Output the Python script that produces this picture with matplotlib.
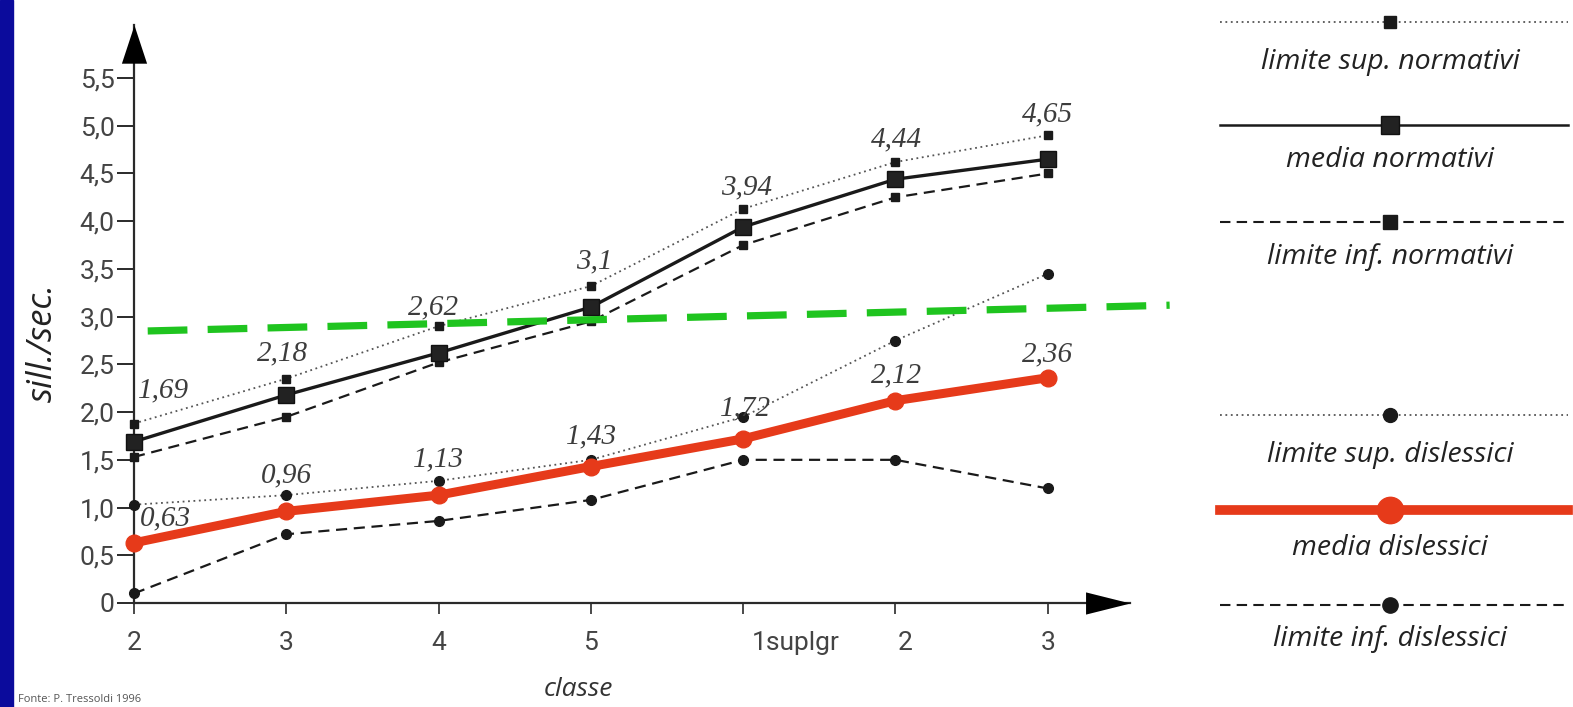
import matplotlib
matplotlib.use('Agg')
import matplotlib.pyplot as plt
import matplotlib.transforms as mtransforms
from matplotlib.lines import Line2D
from matplotlib.patches import Rectangle

# ---------------- data ----------------
classes = ['2', '3', '4', '5', '1suplgr', '2', '3']
media_norm = [1.69, 2.18, 2.62, 3.10, 3.94, 4.44, 4.65]
sup_norm = [1.88, 2.35, 2.90, 3.32, 4.13, 4.62, 4.90]
inf_norm = [1.53, 1.95, 2.52, 2.95, 3.75, 4.25, 4.50]
media_dis = [0.63, 0.96, 1.13, 1.43, 1.72, 2.12, 2.36]
sup_dis = [1.03, 1.13, 1.28, 1.50, 1.95, 2.75, 3.45]
inf_dis = [0.10, 0.72, 0.86, 1.08, 1.50, 1.50, 1.20]
norm_labels = ['1,69', '2,18', '2,62', '3,1', '3,94', '4,44', '4,65']
dis_labels = ['0,63', '0,96', '1,13', '1,43', '1,72', '2,12', '2,36']
threshold_x = [0.09, 6.8]
threshold_y = [2.85, 3.12]
yticks = [0, 0.5, 1.0, 1.5, 2.0, 2.5, 3.0, 3.5, 4.0, 4.5, 5.0, 5.5]
ytick_labels = ['0', '0,5', '1,0', '1,5', '2,0', '2,5', '3,0', '3,5', '4,0', '4,5', '5,0', '5,5']
legend_labels = ['limite sup. normativi', 'media normativi', 'limite inf. normativi',
                 'limite sup. dislessici', 'media dislessici', 'limite inf. dislessici']

# ---------------- styles ----------------
W, H = 1573, 707
RED = '#e63a1a'
GREEN = '#1fc41f'
DARK = '#1a1a1a'
GRAY_TXT = '#3a3a3a'
norm_off = [(30, 51), (-4, 42), (-5, 46), (3, 46), (3, 40), (1, 40), (0, 45)]
dis_off = [(31, 24), (0, 36), (0, 36), (1, 30), (2, 30), (1, 25), (0, 23)]

fig = plt.figure(figsize=(W / 100, H / 100), dpi=100)
fig.patch.set_facecolor('white')

# pixel-space overlay axes (for legend and decorations)
pax = fig.add_axes([0, 0, 1, 1], zorder=0)
pax.set_xlim(0, W)
pax.set_ylim(H, 0)
pax.axis('off')
pax.add_patch(Rectangle((0, 0), 13, H, color='#0b0b9c', zorder=5))

# main axes geometry (pixels)
x0_px, x_end_px, dx_px = 134, 1130, 152.3
y0_px, y_top_px, dy_px = 603, 25, 95.45
ax = fig.add_axes([x0_px / W, (H - y0_px) / H, (x_end_px - x0_px) / W, (y0_px - y_top_px) / H], zorder=2)
ax.patch.set_alpha(0)
ax.set_xlim(0, (x_end_px - x0_px) / dx_px)
ax.set_ylim(0, (y0_px - y_top_px) / dy_px)
for s in ['top', 'right']:
    ax.spines[s].set_visible(False)
for s in ['left', 'bottom']:
    ax.spines[s].set_linewidth(1.6)
    ax.spines[s].set_color('#2a2a2a')

x = list(range(len(classes)))
ax.set_xticks(x)
ax.set_xticklabels(classes)
ax.set_yticks(yticks)
ax.set_yticklabels(ytick_labels)
ax.tick_params(axis='y', direction='out', length=12, width=1.4, color='#2a2a2a',
               labelsize=19, labelcolor='#444444', pad=2)
ax.tick_params(axis='x', direction='out', length=8, width=1.2, color='#2a2a2a',
               labelsize=19, labelcolor='#444444', pad=12)
for lab in ax.get_yticklabels() + ax.get_xticklabels():
    lab.set_fontfamily(['Roboto', 'DejaVu Sans'])
xl = ax.get_xticklabels()
xl[4].set_horizontalalignment('left')
xl[4].set_transform(xl[4].get_transform() + mtransforms.ScaledTranslation(0.09, 0, fig.dpi_scale_trans))
xl[5].set_transform(xl[5].get_transform() + mtransforms.ScaledTranslation(0.10, 0, fig.dpi_scale_trans))

# arrows
xarrow = [(0, 0), (-1, 0.25), (-1, -0.25), (0, 0)]
yarrow = [(0, 0), (-0.33, -1), (0.33, -1), (0, 0)]
ax.plot([1], [0], marker=xarrow, markersize=64, color='black', mew=0,
        transform=ax.transAxes, clip_on=False, zorder=6)
ax.plot([0], [1], marker=yarrow, markersize=55, color='black', mew=0,
        transform=ax.transAxes, clip_on=False, zorder=6)

# normativi
ax.plot(x, sup_norm, linestyle=(0, (1, 2)), color='#555555', lw=1.3,
        marker='s', ms=6, mfc=DARK, mec=DARK, clip_on=False, zorder=3)
ax.plot(x, inf_norm, linestyle=(0, (5, 3)), color=DARK, lw=1.6,
        marker='s', ms=6, mfc=DARK, mec=DARK, clip_on=False, zorder=3)
ax.plot(x, media_norm, linestyle='-', color=DARK, lw=2.4,
        marker='s', ms=11, mfc='#222222', mec='#111111', clip_on=False, zorder=4)

# dislessici
ax.plot(x, sup_dis, linestyle=(0, (1, 2)), color='#555555', lw=1.3,
        marker='o', ms=7, mfc=DARK, mec=DARK, clip_on=False, zorder=3)
ax.plot(x, inf_dis, linestyle=(0, (5, 3)), color=DARK, lw=1.6,
        marker='o', ms=7, mfc=DARK, mec=DARK, clip_on=False, zorder=3)
ax.plot(x, media_dis, linestyle='-', color=RED, lw=6.5,
        marker='o', ms=12, mfc=RED, mec=RED, clip_on=False, zorder=5,
        solid_capstyle='round', solid_joinstyle='round')

# threshold green dashed line
ax.plot(threshold_x, threshold_y, linestyle=(0, (5.5, 2.8)), color=GREEN, lw=5.2,
        clip_on=False, zorder=4.5)

# value labels
lab_font = dict(fontsize=21, fontstyle='italic', family=['Liberation Serif', 'DejaVu Serif'],
                color='#3c3c3c')
for xi, yi, t, off in zip(x, media_norm, norm_labels, norm_off):
    ax.annotate(t, (xi, yi), xytext=off, textcoords='offset pixels', ha='center', va='center',
                zorder=7, annotation_clip=False, **lab_font)
for xi, yi, t, off in zip(x, media_dis, dis_labels, dis_off):
    ax.annotate(t, (xi, yi), xytext=off, textcoords='offset pixels', ha='center', va='center',
                zorder=4.8, annotation_clip=False, **lab_font)

# axis titles
pax.text(43, 343, 'sill./sec.', rotation=90, ha='center', va='center', fontsize=25,
         fontstyle='italic', family=['Open Sans', 'DejaVu Sans'], color='#222222')
pax.text(578, 690, 'classe', ha='center', va='center', fontsize=19,
         fontstyle='italic', family=['Open Sans', 'DejaVu Sans'], color='#333333')
pax.text(18, 705, 'Fonte: P. Tressoldi 1996', ha='left', va='bottom', fontsize=8,
         family=['Open Sans', 'DejaVu Sans'], color='#555555')

# legend (drawn manually in pixel space)
lx0, lx1, lmx = 1220, 1568, 1390
leg_line_y = [22, 125, 222, 415, 510, 605]
leg_text_y = [62, 160, 257, 455, 548, 639]
leg_styles = [
    dict(ls=(0, (1, 2)), color='#555555', lw=1.3, marker='s', ms=9, mfc=DARK, mec=DARK),
    dict(ls='-', color=DARK, lw=1.8, marker='s', ms=13, mfc='#222222', mec='#111111'),
    dict(ls=(0, (5, 3)), color=DARK, lw=1.5, marker='s', ms=10, mfc=DARK, mec=DARK),
    dict(ls=(0, (1, 2)), color='#555555', lw=1.3, marker='o', ms=10, mfc=DARK, mec=DARK),
    dict(ls='-', color=RED, lw=7, marker='o', ms=19, mfc=RED, mec=RED),
    dict(ls=(0, (5, 3)), color=DARK, lw=1.5, marker='o', ms=11, mfc=DARK, mec=DARK),
]
for ly, ty, lab, st in zip(leg_line_y, leg_text_y, legend_labels, leg_styles):
    st = dict(st)
    mk = {k: st.pop(k) for k in ['marker', 'ms', 'mfc', 'mec']}
    pax.add_line(Line2D([lx0, lx1], [ly, ly], linestyle=st['ls'], color=st['color'], lw=st['lw']))
    pax.add_line(Line2D([lmx], [ly], linestyle='none', marker=mk['marker'], markersize=mk['ms'],
                        markerfacecolor=mk['mfc'], markeredgecolor=mk['mec']))
    pax.text(lmx, ty, lab, ha='center', va='center', fontsize=20.5, fontstyle='italic',
             family=['Open Sans', 'DejaVu Sans'], color='#222222')

fig.savefig('out.png', dpi=100, facecolor='white')
